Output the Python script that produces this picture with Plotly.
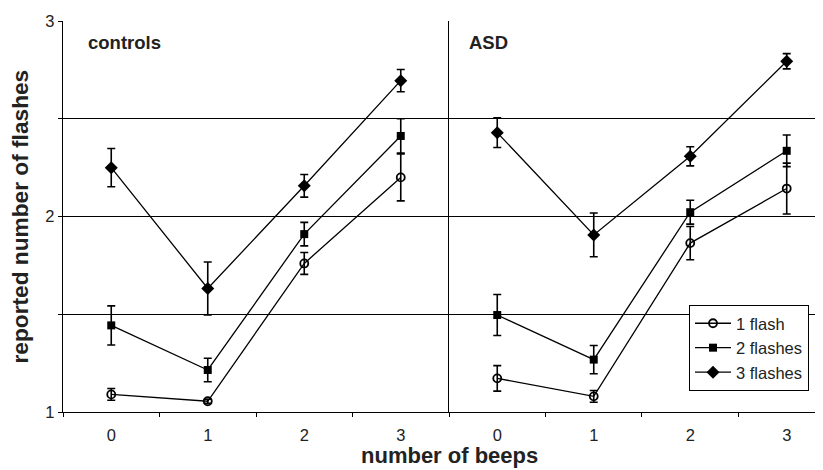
import plotly.graph_objects as go

beeps = [0, 1, 2, 3]
series_names = ["1 flash", "2 flashes", "3 flashes"]

# controls
ctrl_1 = [1.09, 1.055, 1.76, 2.20]
ctrl_1_err = [0.03, 0.01, 0.056, 0.12]
ctrl_2 = [1.443, 1.215, 1.91, 2.412]
ctrl_2_err = [0.10, 0.06, 0.06, 0.088]
ctrl_3 = [2.25, 1.632, 2.157, 2.695]
ctrl_3_err = [0.098, 0.135, 0.058, 0.057]

# ASD
asd_1 = [1.172, 1.08, 1.864, 2.143]
asd_1_err = [0.065, 0.03, 0.085, 0.13]
asd_2 = [1.496, 1.268, 2.022, 2.336]
asd_2_err = [0.105, 0.072, 0.061, 0.081]
asd_3 = [2.429, 1.906, 2.308, 2.794]
asd_3_err = [0.076, 0.112, 0.049, 0.039]

y_tickvals = [1, 1.5, 2, 2.5, 3]
y_ticktext = ["1", "", "2", "", "3"]
x_boundaries = [-0.5, 0.5, 1.5, 2.5, 3.5]

FONT = "Liberation Sans, Arial, sans-serif"
TXT = "#222"

markers = [
    dict(symbol="circle-open", size=8, color="black", line=dict(width=1.8, color="black")),
    dict(symbol="square", size=8, color="black"),
    dict(symbol="diamond", size=10, color="black"),
]

fig = go.Figure()

ctrl = [(ctrl_1, ctrl_1_err), (ctrl_2, ctrl_2_err), (ctrl_3, ctrl_3_err)]
asd = [(asd_1, asd_1_err), (asd_2, asd_2_err), (asd_3, asd_3_err)]

for i, (vals, errs) in enumerate(ctrl):
    fig.add_trace(go.Scatter(
        x=beeps, y=vals, mode="lines+markers", name=series_names[i],
        line=dict(color="black", width=1.3), marker=markers[i],
        error_y=dict(type="data", array=errs, visible=True, color="black", thickness=1.6, width=4),
        xaxis="x", yaxis="y", showlegend=False,
    ))
for i, (vals, errs) in enumerate(asd):
    fig.add_trace(go.Scatter(
        x=beeps, y=vals, mode="lines+markers", name=series_names[i],
        line=dict(color="black", width=1.3), marker=markers[i],
        error_y=dict(type="data", array=errs, visible=True, color="black", thickness=1.6, width=4),
        xaxis="x2", yaxis="y2", showlegend=True,
    ))

# page body adds an 8px offset; plot area targeted at x 63..823, y 21..412 on screen
W, H = 815, 462
PL, PR, PT, PB = 55, 0, 13, 58
split = (449 - 63) / 760

xcommon = dict(
    tickmode="array", tickvals=beeps, ticktext=[str(b) for b in beeps],
    ticks="", showline=True, linecolor="black", linewidth=1.3,
    showgrid=False, zeroline=False, ticklabelstandoff=8,
    tickfont=dict(family=FONT, size=16.5, color=TXT),
    minor=dict(tickmode="array", tickvals=x_boundaries, ticks="outside", ticklen=4,
               tickwidth=1.3, tickcolor="black", showgrid=False),
    fixedrange=True,
)

fig.update_layout(
    width=W, height=H,
    margin=dict(l=PL, r=PR, t=PT, b=PB, pad=0),
    paper_bgcolor="white", plot_bgcolor="white",
    font=dict(family=FONT, color="black"),
    xaxis=dict(domain=[0, split], range=[-0.5, 3.5], anchor="y", **xcommon),
    xaxis2=dict(domain=[split, 1], range=[-0.5, 3.376], anchor="y2", **xcommon),
    yaxis=dict(range=[1, 3], tickmode="array", tickvals=y_tickvals, ticktext=y_ticktext,
               ticks="outside", ticklen=4, tickwidth=1.3, tickcolor="black",
               showline=True, linecolor="black", linewidth=1.3,
               showgrid=True, gridcolor="black", gridwidth=1.3, zeroline=False,
               tickfont=dict(family=FONT, size=16.5, color=TXT), anchor="x"),
    yaxis2=dict(range=[1, 3], tickmode="array", tickvals=y_tickvals, showticklabels=False,
                ticks="", showline=True, linecolor="black", linewidth=1.3,
                showgrid=True, gridcolor="black", gridwidth=1.3, zeroline=False,
                anchor="x2", matches="y"),
    legend=dict(x=(689 - 63) / 760, y=(412 - 305) / 391, xanchor="left", yanchor="top",
                bordercolor="black", borderwidth=1, bgcolor="white", itemwidth=36,
                font=dict(family=FONT, size=16.5, color=TXT), tracegroupgap=0),
    showlegend=True,
    annotations=[
        dict(text="<b>reported number of flashes</b>", xref="paper", yref="paper",
             x=(19 - 63) / 760, y=0.5, textangle=-90, showarrow=False,
             xanchor="center", yanchor="middle", font=dict(family=FONT, size=22.7, color=TXT)),
        dict(text="<b>number of beeps</b>", xref="paper", yref="paper",
             x=(449.5 - 63) / 760, y=(412 - 455) / 391, showarrow=False,
             xanchor="center", yanchor="middle", font=dict(family=FONT, size=22, color=TXT)),
        dict(text="<b>controls</b>", xref="paper", yref="paper",
             x=(86 - 63) / 760, y=(412 - 43) / 391, showarrow=False,
             xanchor="left", yanchor="middle", font=dict(family=FONT, size=18.5, color=TXT)),
        dict(text="<b>ASD</b>", xref="paper", yref="paper",
             x=(467 - 63) / 760, y=(412 - 43) / 391, showarrow=False,
             xanchor="left", yanchor="middle", font=dict(family=FONT, size=18.5, color=TXT)),
    ],
)

fig.write_html("out.html")
